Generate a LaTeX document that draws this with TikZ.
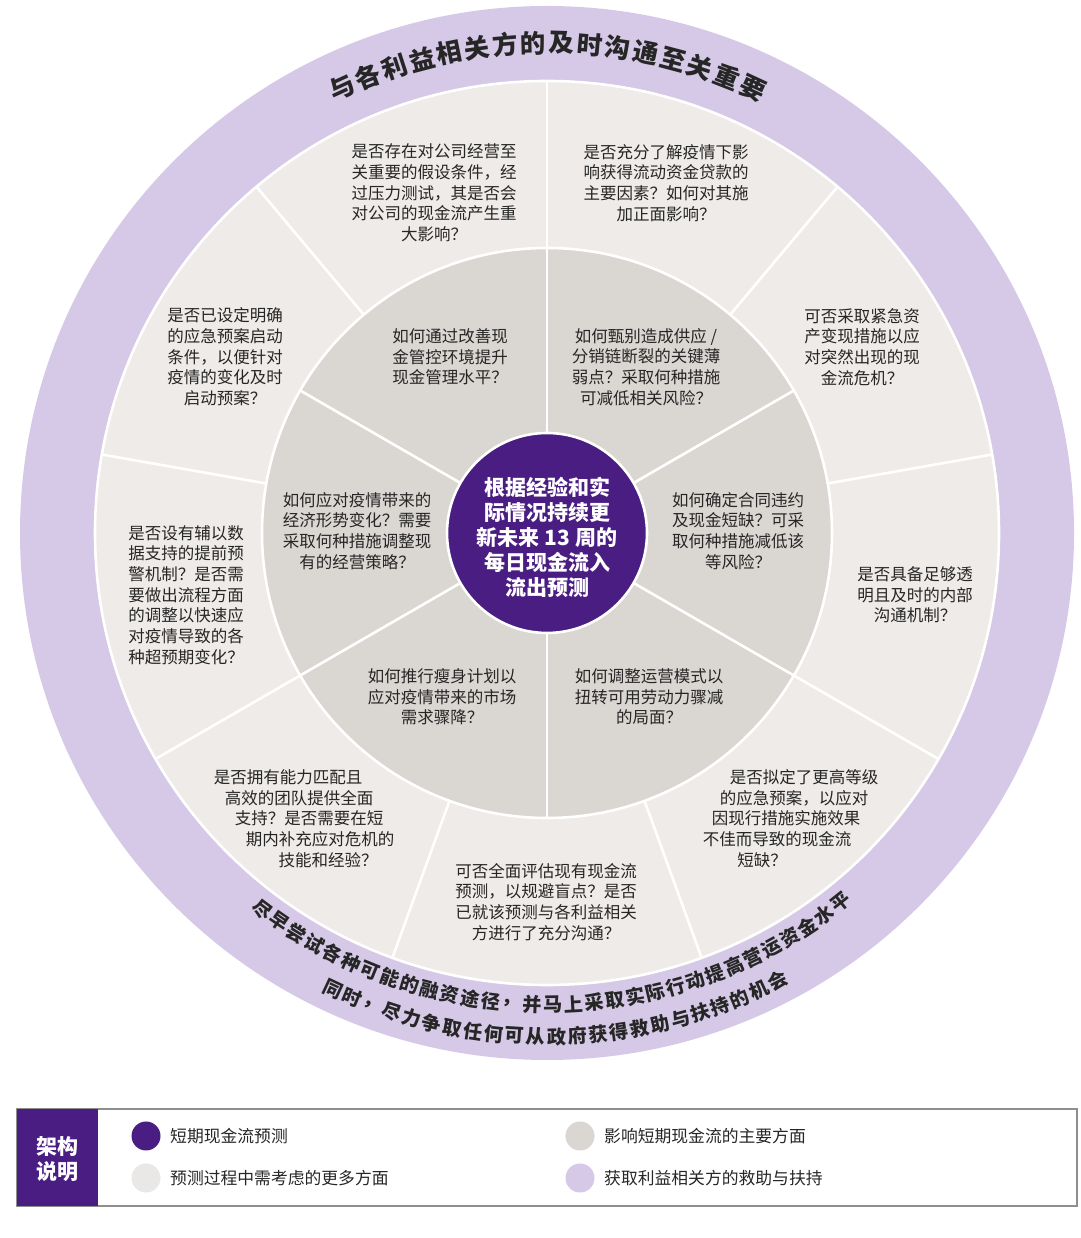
\documentclass[tikz,border=0pt]{standalone}
\usepackage{fontspec}
\newfontfamily\cjk{Noto Sans CJK SC}
\definecolor{lav}{HTML}{D5C9E7}
\definecolor{lightg}{HTML}{EEEBE8}
\definecolor{midg}{HTML}{DAD6D2}
\definecolor{dpurp}{HTML}{4A1D82}
\definecolor{txt}{HTML}{262626}
\definecolor{legline}{HTML}{8E8E8E}
\definecolor{legg}{HTML}{EAE8E6}
\tikzset{
  body/.style={font=\cjk\fontsize{16.5}{20.7}\selectfont, text=txt, align=center, inner sep=0pt},
  centertext/.style={font=\cjk\bfseries\fontsize{21}{25}\selectfont, text=white, align=center, inner sep=0pt},
  arctop/.style={font=\cjk\bfseries\fontsize{25.5}{25.5}\selectfont, text=txt, inner sep=0pt},
  arcbot/.style={font=\cjk\bfseries\fontsize{19.2}{19.2}\selectfont, text=txt, inner sep=0pt},
  sep/.style={draw=white, line width=2.6pt},
  legtext/.style={font=\cjk\fontsize{16.8}{20}\selectfont, text=txt, anchor=west, inner sep=0pt},
  legdot/.style={circle, minimum size=29pt, inner sep=0pt},
}
\begin{document}
\begin{tikzpicture}[x=1pt,y=1pt]
\useasboundingbox (0,0) rectangle (1080,1238);
\fill[white] (0,0) rectangle (1080,1238);
\coordinate (C) at (547,705);
% rings
\fill[lav] (C) circle (527);
\filldraw[fill=lightg, sep] (C) circle (452);
\filldraw[fill=midg, sep] (C) circle (285);
% outer dividers (9 sectors)
\foreach \a in {90,50,10,-30,-70,-110,-150,170,130}
  \draw[sep] ([shift={(C)}]\a:285) -- ([shift={(C)}]\a:452);
% middle dividers (6 sectors)
\foreach \a in {90,30,-30,-90,-150,150}
  \draw[sep] ([shift={(C)}]\a:100) -- ([shift={(C)}]\a:285);
\filldraw[fill=dpurp, sep] (C) circle (100);

% centre text
\node[centertext] (ctr) at (547,701) {根据经验和实\\际情况持续更\\新未来 13 周的\\每日现金流入\\流出预测};

% middle ring texts
\node[body] (m1) at (450,881) {如何通过改善现\\金管控环境提升\\现金管理水平？};
\node[body] (m2) at (646,871) {如何甄别造成供应 /\\分销链断裂的关键薄\\弱点？采取何种措施\\可减低相关风险？};
\node[body] (m3) at (738,707) {如何确定合同违约\\及现金短缺？可采\\取何种措施减低该\\等风险？};
\node[body] (m4) at (649,541) {如何调整运营模式以\\扭转可用劳动力骤减\\的局面？};
\node[body] (m5) at (442,541) {如何推行瘦身计划以\\应对疫情带来的市场\\需求骤降？};
\node[body] (m6) at (357,707) {如何应对疫情带来的\\经济形势变化？需要\\采取何种措施调整现\\有的经营策略？};

% outer ring texts
\node[body] (s1) at (434,1045) {是否存在对公司经营至\\关重要的假设条件，经\\过压力测试，其是否会\\对公司的现金流产生重\\大影响？};
\node[body] (s2) at (666,1055) {是否充分了解疫情下影\\响获得流动资金贷款的\\主要因素？如何对其施\\加正面影响？};
\node[body] (s3) at (862,891) {可否采取紧急资\\产变现措施以应\\对突然出现的现\\金流危机？};
\node[body] (s4) at (915,643) {是否具备足够透\\明且及时的内部\\沟通机制？};
\node[body] (s5a) at (804,461) {是否拟定了更高等级};
\node[body] (s5b) at (794,440) {的应急预案，以应对};
\node[body] (s5c) at (786,420) {因现行措施实施效果};
\node[body] (s5d) at (777,399) {不佳而导致的现金流};
\node[body] (s5e) at (762,378) {短缺？};
\node[body] (s6) at (546,336) {可否全面评估现有现金流\\预测，以规避盲点？是否\\已就该预测与各利益相关\\方进行了充分沟通？};
\node[body] (s7a) at (288,461) {是否拥有能力匹配且};
\node[body] (s7b) at (299,440) {高效的团队提供全面};
\node[body] (s7c) at (309,420) {支持？是否需要在短};
\node[body] (s7d) at (320,399) {期内补充应对危机的};
\node[body] (s7e) at (328,378) {技能和经验？};
\node[body] (s8) at (186,643) {是否设有辅以数\\据支持的提前预\\警机制？是否需\\要做出流程方面\\的调整以快速应\\对疫情导致的各\\种超预期变化？};
\node[body] (s9) at (225,881) {是否已设定明确\\的应急预案启动\\条件，以便针对\\疫情的变化及时\\启动预案？};

% curved title on top
\foreach \ch [count=\i from 0] in {与,各,利,益,相,关,方,的,及,时,沟,通,至,关,重,要}{
  \pgfmathsetmacro\ang{114.7-3.3*\i}
  \node[arctop, rotate=\ang-90] (top\i) at ([shift={(C)}]\ang:490) {\ch};
}
% curved text at the bottom, line 1
\foreach \ch [count=\i from 0] in {尽,早,尝,试,各,种,可,能,的,融,资,途,径,，,并,马,上,采,取,实,际,行,动,提,高,营,运,资,金,水,平}{
  \pgfmathsetmacro\ang{-127.1+2.52*\i}
  \node[arcbot, rotate=\ang+90] (ba\i) at ([shift={(C)}]\ang:472) {\ch};
}
% line 2
\foreach \ch [count=\i from 0] in {同,时,，,尽,力,争,取,任,何,可,从,政,府,获,得,救,助,与,扶,持,的,机,会}{
  \pgfmathsetmacro\ang{-115.1+2.38*\i}
  \node[arcbot, rotate=\ang+90] (bb\i) at ([shift={(C)}]\ang:504) {\ch};
}

% legend
\draw[legline, line width=1.1pt] (17,129) rectangle (1077,32);
\fill[dpurp] (17,32) rectangle (98,129);
\node[font=\cjk\bfseries\fontsize{21}{25}\selectfont, text=white, align=center, inner sep=0pt] (legt) at (57.5,79) {架构\\说明};
\node[legdot, fill=dpurp] (d1) at (146,102) {};
\node[legdot, fill=legg] (d2) at (146,60) {};
\node[legdot, fill=midg] (d3) at (580,102) {};
\node[legdot, fill=lav] (d4) at (580,60) {};
\node[legtext] (l1) at (170,102) {短期现金流预测};
\node[legtext] (l2) at (170,60) {预测过程中需考虑的更多方面};
\node[legtext] (l3) at (604,102) {影响短期现金流的主要方面};
\node[legtext] (l4) at (604,60) {获取利益相关方的救助与扶持};
\end{tikzpicture}
\end{document}
